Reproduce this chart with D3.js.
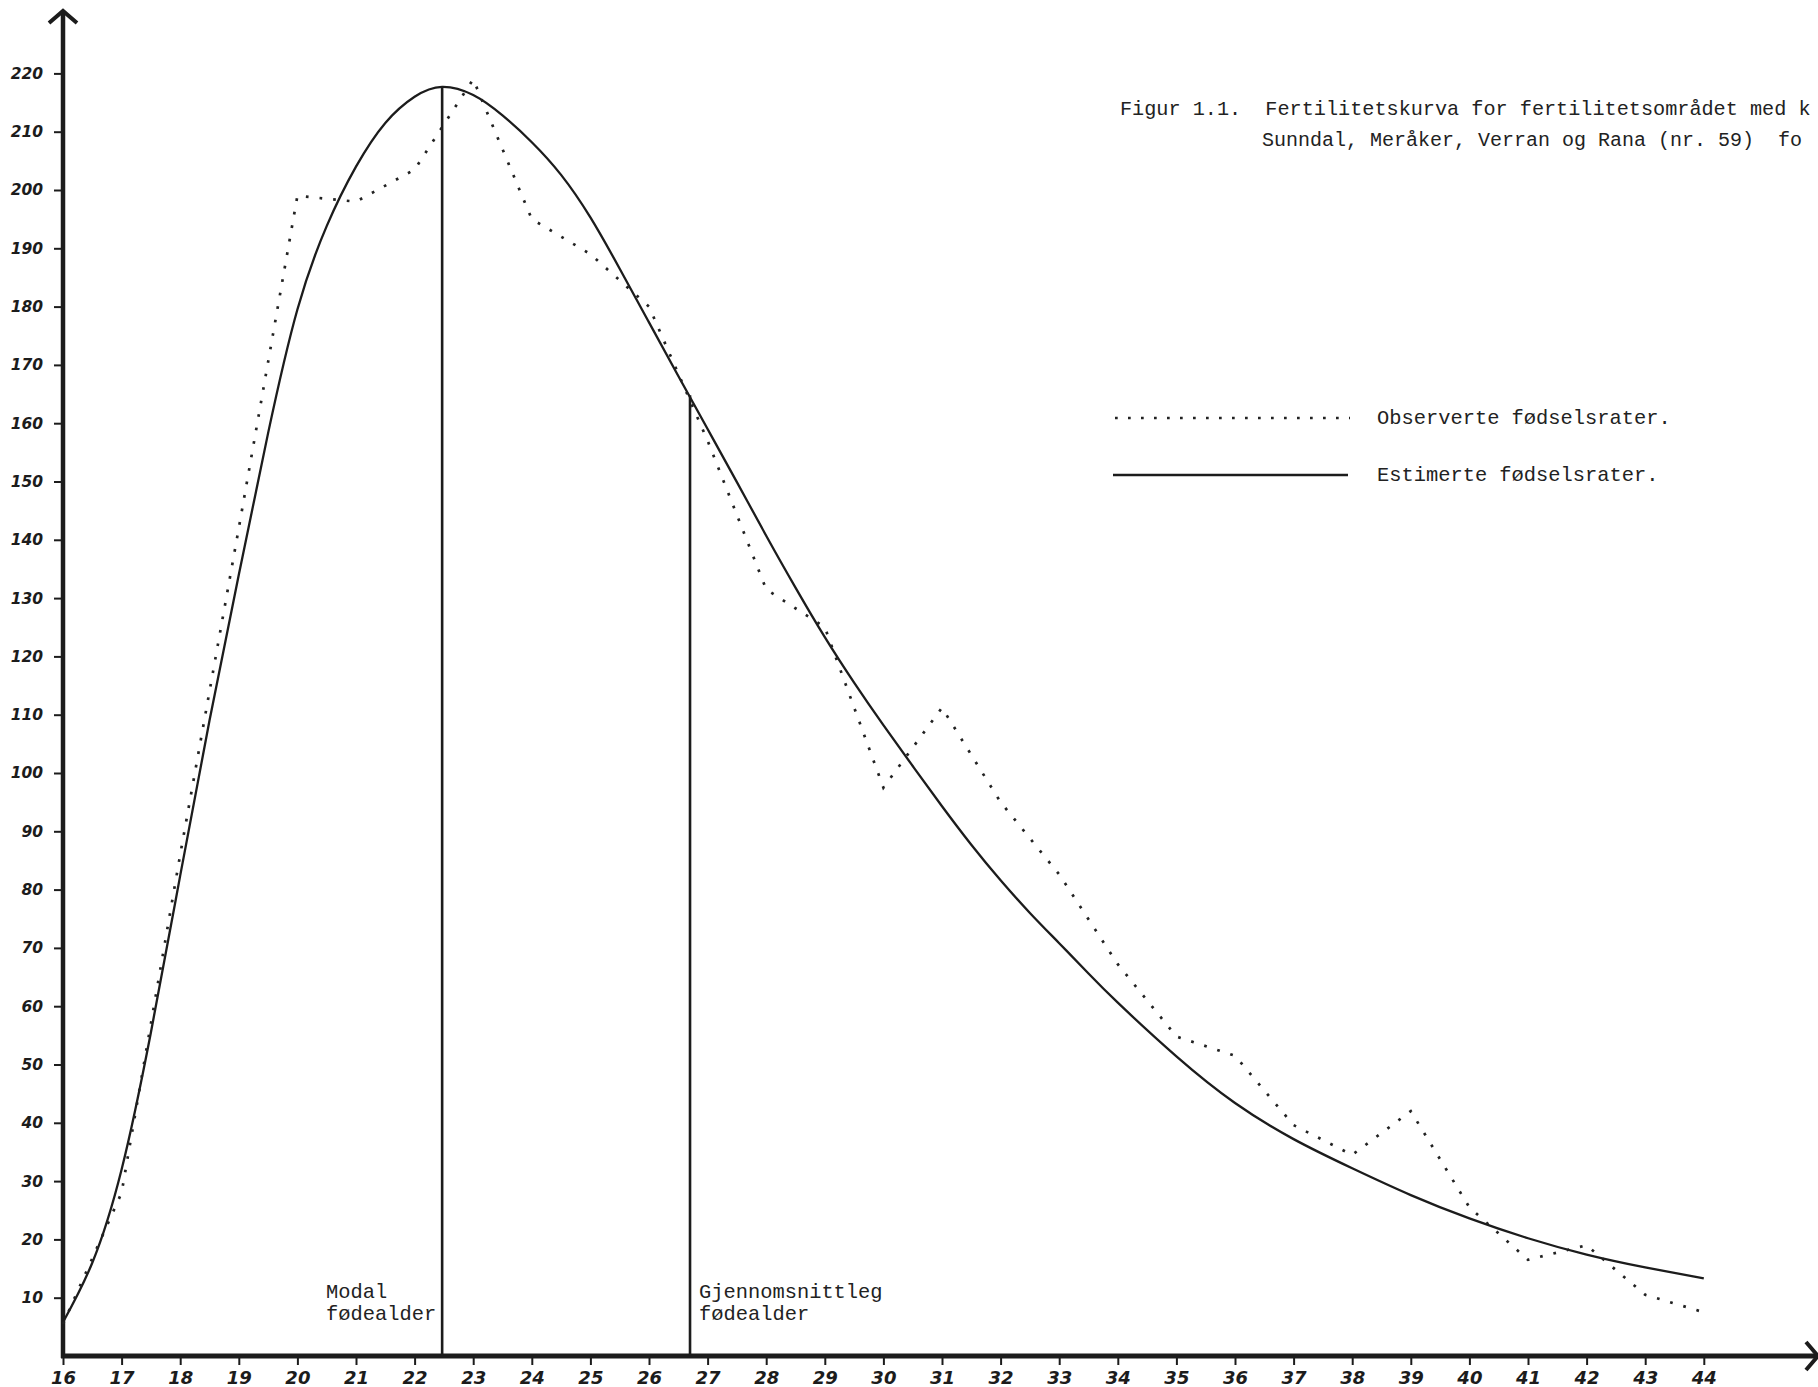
<!DOCTYPE html>
<html>
<head>
<meta charset="utf-8">
<script src="https://cdn.jsdelivr.net/npm/d3@7/dist/d3.min.js"></script>
<style>
  html, body { margin: 0; padding: 0; background: #ffffff; }
  svg { display: block; }
</style>
</head>
<body>
<svg id="chart" width="1818" height="1387"></svg>
<script>
// ---------------- DATA ----------------
// Observed birth rates (per 1000 women) by age
const obsAges = [16, 17, 18, 19, 20, 21, 22, 23, 24, 25, 26, 27, 28, 29, 30,
                 31, 32, 33, 34, 35, 36, 37, 38, 39, 40, 41, 42, 43, 44];
const obsRates = [5.5, 28, 86, 142, 199, 198, 203.5, 219, 195, 189, 180, 157, 131.5, 125, 97.5,
                  111.2, 95, 82.6, 67.2, 54.8, 51.5, 39.6, 34.5, 42, 25.5, 16.5, 19, 10.5, 7.5];

// Estimated (fitted) birth rates
const estAges = [16, 16.5, 17, 17.5, 18, 18.5, 19, 19.5, 20, 20.5, 21, 21.5, 22, 22.47, 23, 23.5,
                 24, 24.5, 25, 25.5, 26, 26.5, 27, 27.5, 28, 28.5, 29, 29.5, 30, 30.5, 31, 31.5,
                 32, 32.5, 33, 33.5, 34, 35, 36, 37, 38, 39, 40, 41, 42, 43, 44];
const estRates = [5.8, 16, 32, 55.5, 82.4, 109, 134, 158.3, 179.5, 193.8, 204, 211.5, 216, 217.7, 216.3, 212.8,
                  208.2, 202.6, 195.3, 186.5, 177.3, 168.1, 159, 149.9, 140.7, 131.8, 123.3, 115.5, 108.2, 101.2, 94.3, 87.7,
                  81.6, 76, 70.8, 65.6, 60.6, 51.4, 43.4, 37.2, 32.2, 27.6, 23.6, 20.2, 17.4, 15.2, 13.3];

// Reference lines: modal and mean age of childbearing
const markerAges = [22.47, 26.7];
const markerRates = [217.7, 164.8];
const markerLabels = [["Modal", "fødealder"], ["Gjennomsnittleg", "fødealder"]];

// Tick labels
const xTickLabels = [16, 17, 18, 19, 20, 21, 22, 23, 24, 25, 26, 27, 28, 29, 30,
                     31, 32, 33, 34, 35, 36, 37, 38, 39, 40, 41, 42, 43, 44];
const yTickLabels = [10, 20, 30, 40, 50, 60, 70, 80, 90, 100, 110, 120, 130, 140, 150,
                     160, 170, 180, 190, 200, 210, 220];

// Texts
const titleLines = ["Figur 1.1.  Fertilitetskurva for fertilitetsområdet med k",
                    "Sunndal, Meråker, Verran og Rana (nr. 59)  fo"];
const legendLabels = ["Observerte fødselsrater.", "Estimerte fødselsrater."];

// ---------------- CHART ----------------
const svg = d3.select("#chart");
const ink = "#1c1c1c";
const mono = "'Liberation Mono', 'DejaVu Sans Mono', monospace";
const hand = "'DejaVu Sans', 'Noto Sans', sans-serif";
const monoSize = 20.4;   // gives a 12.25 px typewriter pitch

function typewriter(sel, size) {
  sel.attr("font-family", mono).attr("font-size", size || monoSize).attr("fill", "#222")
    .style("white-space", "pre");
  return sel;
}

const x = d3.scaleLinear().domain([16, 44]).range([63, 1703.8]);
const y = d3.scaleLinear().domain([0, 220]).range([1356, 73.4]);

svg.append("rect").attr("width", 1818).attr("height", 1387).attr("fill", "#ffffff");

// Y axis ticks + labels
const yAxis = d3.axisLeft(y).tickValues(yTickLabels).tickSize(9).tickPadding(11)
  .tickFormat(d => String(d));
const gy = svg.append("g").attr("transform", `translate(${x(16)},0)`).call(yAxis);
gy.select(".domain").remove();
gy.selectAll(".tick line").attr("stroke", ink).attr("stroke-width", 2);
gy.selectAll(".tick text")
  .attr("fill", ink)
  .attr("font-family", hand)
  .attr("font-style", "italic")
  .attr("font-weight", "bold")
  .attr("font-size", 15.5);

// X axis ticks + labels
const xAxis = d3.axisBottom(x).tickValues(xTickLabels).tickSize(9).tickPadding(6)
  .tickFormat(d => String(d));
const gx = svg.append("g").attr("transform", `translate(0,${y(0)})`).call(xAxis);
gx.select(".domain").remove();
gx.selectAll(".tick line").attr("stroke", ink).attr("stroke-width", 2);
gx.selectAll(".tick text")
  .attr("fill", ink)
  .attr("font-family", hand)
  .attr("font-style", "italic")
  .attr("font-weight", "bold")
  .attr("font-size", 18);

// Axis lines (thick) with arrows
svg.append("line")
  .attr("x1", x(16)).attr("x2", x(16))
  .attr("y1", y(0) + 2).attr("y2", 13)
  .attr("stroke", ink).attr("stroke-width", 4.5);
svg.append("path")
  .attr("d", `M${x(16) - 14},${23} L${x(16)},${11} L${x(16) + 14},${23}`)
  .attr("fill", "none").attr("stroke", ink).attr("stroke-width", 4);

svg.append("line")
  .attr("x1", x(16) - 2).attr("x2", 1818)
  .attr("y1", y(0)).attr("y2", y(0))
  .attr("stroke", ink).attr("stroke-width", 5);
svg.append("path")
  .attr("d", `M1806,${y(0) - 14} L1818,${y(0)} L1806,${y(0) + 14}`)
  .attr("fill", "none").attr("stroke", ink).attr("stroke-width", 4);

// Reference vertical lines
markerAges.forEach((a, i) => {
  svg.append("line")
    .attr("x1", x(a)).attr("x2", x(a))
    .attr("y1", y(0)).attr("y2", y(markerRates[i]))
    .attr("stroke", ink).attr("stroke-width", 2.6);
});

// Estimated curve
const estData = estAges.map((a, i) => [a, estRates[i]]);
svg.append("path")
  .datum(estData)
  .attr("d", d3.line().x(d => x(d[0])).y(d => y(d[1])).curve(d3.curveNatural))
  .attr("fill", "none").attr("stroke", ink).attr("stroke-width", 2.3);

// Observed dotted polyline
const obsData = obsAges.map((a, i) => [a, obsRates[i]]);
svg.append("path")
  .datum(obsData)
  .attr("d", d3.line().x(d => x(d[0])).y(d => y(d[1])))
  .attr("fill", "none").attr("stroke", "#222").attr("stroke-width", 2.7)
  .attr("stroke-dasharray", "2.7 11");

// Marker labels
markerLabels.forEach((lines, i) => {
  const t = svg.append("g").selectAll("text").data(lines).join("text")
    .attr("y", (d, j) => 1298 + j * 22)
    .text(d => d);
  typewriter(t);
  const w = d3.max(t.nodes(), n => n.getComputedTextLength());
  const x0 = i === 0 ? x(markerAges[i]) - 6 - w : x(markerAges[i]) + 9;
  t.attr("x", x0);
});

// Title (kept inside the page edge)
const titleX = [1120, 1262];
const titleSize = [20.2, 20.0];
svg.selectAll(".title").data(titleLines).join("text")
  .attr("class", "title")
  .attr("x", (d, i) => titleX[i]).attr("y", (d, i) => 115 + i * 31)
  .attr("font-family", mono).attr("fill", "#222").style("white-space", "pre")
  .attr("font-size", (d, i) => titleSize[i])
  .text(d => d);

// Legend
const legendY = [418, 475];
svg.append("line")
  .attr("x1", 1115).attr("x2", 1350).attr("y1", legendY[0]).attr("y2", legendY[0])
  .attr("stroke", "#222").attr("stroke-width", 2.7).attr("stroke-dasharray", "2.7 10.3");
svg.append("line")
  .attr("x1", 1113).attr("x2", 1348).attr("y1", legendY[1]).attr("y2", legendY[1])
  .attr("stroke", ink).attr("stroke-width", 2.5);
typewriter(svg.selectAll(".leg").data(legendLabels).join("text")
  .attr("class", "leg")
  .attr("x", 1377).attr("y", (d, i) => legendY[i] + 6)
  .text(d => d));
</script>
</body>
</html>
